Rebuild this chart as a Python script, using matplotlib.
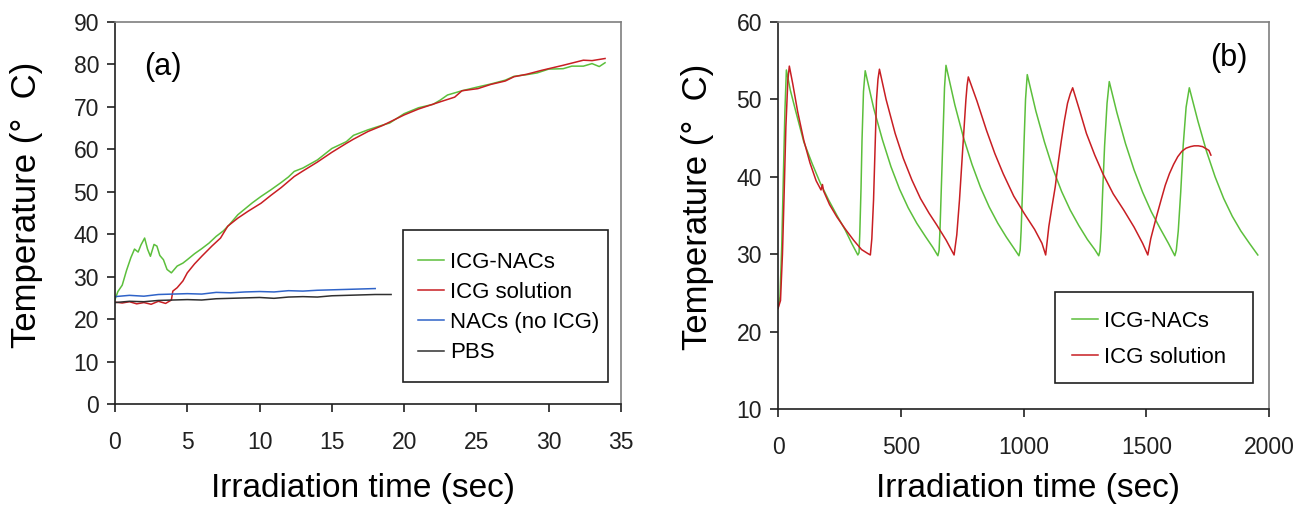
import matplotlib
matplotlib.use("Agg")
import matplotlib.pyplot as plt
from matplotlib.patches import Rectangle

plt.rcParams['font.family'] = ['Liberation Sans', 'DejaVu Sans']

GREEN = "#5cbf3c"
RED = "#c81e23"
BLUE = "#2f63c8"
BLACK = "#303030"

# ---- panel (a): heating curves ----
t_nacs = [0, 0.2, 0.5, 0.8, 1.1, 1.35, 1.6, 1.8, 2.05, 2.25, 2.45, 2.7, 2.9, 3.1, 3.35, 3.6, 3.9,
          4.3, 4.7, 5.0, 5.5, 6.0, 6.5, 7.0, 7.5, 7.9, 8.5, 9.0, 9.5, 10.1, 10.8, 11.5, 12.0, 12.4,
          13.0, 14.0, 15.0, 16.0, 16.5, 17.5, 18.5, 19.0, 20.0, 21.0, 22.0, 22.5, 23.0, 24.0, 25.1,
          26.0, 27.0, 27.6, 28.5, 29.2, 30.0, 31.0, 31.6, 32.4, 33.0, 33.5, 33.9]
T_nacs = [24.6, 26.5, 28.0, 31.5, 34.5, 36.5, 35.8, 37.5, 39.1, 36.5, 34.8, 37.6, 37.2, 35.0, 34.0, 31.7, 30.9,
          32.5, 33.2, 34.0, 35.4, 36.6, 37.9, 39.5, 40.8, 42.2, 44.6, 46.0, 47.4, 48.9, 50.5, 52.2, 53.5, 54.8,
          55.6, 57.5, 60.2, 61.8, 63.3, 64.6, 65.7, 66.2, 68.4, 69.8, 70.6, 71.6, 72.8, 73.8, 74.7,
          75.4, 76.3, 77.2, 77.6, 78.0, 78.9, 79.0, 79.6, 79.6, 80.2, 79.5, 80.4]

t_icg = [0, 0.5, 1.0, 1.5, 2.0, 2.5, 3.0, 3.5, 3.9, 4.0, 4.3, 4.7, 5.0, 5.5, 6.0, 6.7, 7.3, 7.8, 8.5,
         9.2, 10.1, 10.8, 11.5, 12.4, 13.0, 14.0, 15.0, 16.0, 16.5, 17.5, 18.5, 20.0, 21.0, 22.5, 23.5,
         24.0, 25.1, 26.0, 27.0, 27.6, 28.5, 29.5, 30.0, 31.0, 32.4, 33.0, 33.9]
T_icg = [24.0, 23.8, 24.1, 23.6, 23.9, 23.5, 24.2, 23.7, 24.5, 26.6, 27.4, 29.0, 30.9, 33.0, 34.8, 37.2, 39.1, 41.9, 43.8,
         45.4, 47.3, 49.2, 51.0, 53.6, 54.9, 57.0, 59.3, 61.4, 62.4, 64.2, 65.6, 68.1, 69.5, 71.2, 72.3,
         73.8, 74.3, 75.3, 76.1, 77.1, 77.7, 78.6, 79.0, 79.8, 81.0, 80.9, 81.4]

t_bare = [0, 1.0, 2.0, 3.0, 4.0, 5.0, 6.0, 7.0, 8.0, 9.0, 10.0, 11.0, 12.0, 13.0, 14.0, 15.0, 16.0, 17.0, 18.0]
T_bare = [25.3, 25.6, 25.4, 25.8, 25.9, 26.0, 25.9, 26.3, 26.2, 26.4, 26.5, 26.4, 26.7, 26.6, 26.8, 26.9, 27.0, 27.1, 27.2]

t_pbs = [0, 1.0, 2.0, 3.0, 4.0, 5.0, 6.0, 7.0, 8.0, 9.0, 10.0, 11.0, 12.0, 13.0, 14.0, 15.0, 16.0, 17.0, 18.0, 19.1]
T_pbs = [23.9, 24.2, 24.1, 24.4, 24.5, 24.6, 24.5, 24.8, 24.9, 25.0, 25.1, 24.9, 25.2, 25.3, 25.2, 25.5, 25.6, 25.7, 25.8, 25.8]

# ---- panel (b): repeated on/off cycles ----
tb_nacs = [0, 8, 15, 22, 28, 34, 50, 71, 105, 139, 172, 206, 240, 274, 300, 325,
           330, 333, 338, 342, 348, 355, 390, 425, 460, 495, 530, 565, 600, 630, 651,
           656, 660, 666, 672, 678, 684, 720, 755, 790, 825, 860, 895, 930, 960, 981,
           986, 990, 996, 1002, 1008, 1015, 1050, 1085, 1120, 1155, 1190, 1225, 1260, 1290, 1306,
           1311, 1316, 1322, 1330, 1340, 1349, 1380, 1415, 1450, 1485, 1520, 1555, 1590, 1616,
           1622, 1630, 1640, 1650, 1662, 1675, 1710, 1745, 1780, 1815, 1850, 1885, 1920, 1954]
Tb_nacs = [23.0, 24.5, 31.0, 40.5, 48.5, 53.8, 51.2, 48.6, 44.5, 41.7, 39.2, 37.0, 35.0, 33.1, 31.4, 29.9,
           30.2, 32.7, 38.5, 44.7, 51.0, 53.7, 48.8, 44.8, 41.3, 38.4, 36.0, 34.0, 32.3, 30.9, 29.8,
           30.5, 33.5, 39.5, 45.5, 51.5, 54.4, 49.3, 45.1, 41.6, 38.6, 36.1, 34.0, 32.2, 30.8, 29.8,
           30.5, 33.0, 38.5, 44.5, 50.0, 53.2, 48.5, 44.5, 41.0, 38.1, 35.7, 33.7, 31.9, 30.6, 29.8,
           30.4, 33.0, 38.0, 44.0, 49.5, 52.3, 48.3, 44.3, 40.9, 38.0, 35.5, 33.4, 31.4, 29.8,
           30.5, 33.0, 38.0, 44.0, 49.0, 51.5, 47.2, 43.3, 40.0, 37.2, 34.9, 33.0, 31.4, 29.9]

tb_icg = [0, 10, 18, 25, 32, 40, 46, 60, 80, 105, 130, 155, 175, 181, 185, 210, 240, 275, 308, 340, 365, 376,
          382, 389, 395, 401, 407, 413, 440, 477, 510, 545, 580, 615, 646, 685, 717,
          728, 739, 752, 765, 770, 775, 810, 849, 883, 917, 960, 1002, 1045, 1075, 1090,
          1103, 1116, 1129, 1141, 1154, 1166, 1179, 1190, 1200, 1228, 1256, 1290, 1323, 1365, 1408, 1450, 1485, 1506,
          1518, 1540, 1560, 1577, 1594, 1611, 1628, 1645, 1662, 1680, 1695, 1712, 1729, 1745, 1755, 1763]
Tb_icg = [23.0, 24.0, 30.0, 38.0, 46.5, 52.5, 54.3, 52.0, 48.4, 44.7, 41.8, 39.5, 38.3, 39.0, 38.2, 36.4, 34.8, 33.2, 31.8, 30.6, 30.1, 29.9,
          32.0, 37.0, 43.5, 49.9, 52.6, 53.9, 50.0, 45.6, 42.4, 39.6, 37.2, 35.3, 33.8, 31.8, 29.9,
          32.5, 37.0, 43.5, 49.9, 51.8, 52.9, 49.8, 46.0, 43.0, 40.4, 37.5, 35.3, 33.2, 31.4, 29.9,
          33.6, 36.2, 38.7, 41.8, 44.7, 47.2, 49.5, 50.7, 51.5, 48.6, 45.6, 42.8, 40.4, 37.8, 35.7, 33.5, 31.4, 29.9,
          32.0, 34.7, 37.0, 38.9, 40.4, 41.6, 42.6, 43.3, 43.7, 43.9, 44.0, 44.0, 43.9, 43.6, 43.4, 42.8]


def style_axes(ax):
    for side in ("top", "right"):
        ax.spines[side].set_color("#7f7f7f")
    for side in ("left", "bottom"):
        ax.spines[side].set_color("#202020")
    for sp in ax.spines.values():
        sp.set_linewidth(1.2)
    ax.tick_params(axis="both", direction="out", length=5.5, width=1.2, labelsize=16.5,
                   top=False, right=False, colors="#202020")
    ax.tick_params(axis="x", pad=14)
    ax.tick_params(axis="y", pad=6)


def boxed_legend(ax, rect, anchor, spacing):
    # frame drawn by hand so its size does not depend on the legend padding
    x0, y0, x1, y1 = rect
    ax.add_patch(Rectangle((x0, y0), x1 - x0, y1 - y0, transform=ax.transAxes, fill=False,
                           edgecolor="#202020", lw=1.2, zorder=5, clip_on=False))
    ax.legend(loc="upper left", bbox_to_anchor=anchor, fontsize=16, frameon=False,
              handlelength=1.15, handletextpad=0.3, borderpad=0, borderaxespad=0,
              labelspacing=spacing)


fig = plt.figure(figsize=(12.95, 5.08), dpi=100)

ax1 = fig.add_axes([0.0888, 0.2047, 0.3907, 0.752])
ax1.plot(t_nacs, T_nacs, color=GREEN, lw=1.1, label="ICG-NACs")
ax1.plot(t_icg, T_icg, color=RED, lw=1.1, label="ICG solution")
ax1.plot(t_bare, T_bare, color=BLUE, lw=1.1, label="NACs (no ICG)")
ax1.plot(t_pbs, T_pbs, color=BLACK, lw=1.1, label="PBS")
ax1.set_xlim(0, 35)
ax1.set_ylim(0, 90)
ax1.set_xticks(range(0, 36, 5))
ax1.set_yticks(range(0, 91, 10))
style_axes(ax1)
ax1.set_xlabel("Irradiation time (sec)", fontsize=24)
ax1.set_ylabel("Temperature (\u00b0  C)", fontsize=25)
ax1.xaxis.set_label_coords(0.49, -0.18)
ax1.yaxis.set_label_coords(-0.142, 0.521)
ax1.text(0.057, 0.861, "(a)", transform=ax1.transAxes, fontsize=22, va="baseline")
boxed_legend(ax1, (0.569, 0.0576, 0.974, 0.4555), (0.599, 0.398), 0.41)

ax2 = fig.add_axes([0.6008, 0.1949, 0.3792, 0.7618])
ax2.plot(tb_nacs, Tb_nacs, color=GREEN, lw=1.1, label="ICG-NACs")
ax2.plot(tb_icg, Tb_icg, color=RED, lw=1.1, label="ICG solution")
ax2.set_xlim(0, 2000)
ax2.set_ylim(10, 60)
ax2.set_xticks(range(0, 2001, 500))
ax2.set_yticks(range(10, 61, 10))
style_axes(ax2)
ax2.set_xlabel("Irradiation time (sec)", fontsize=24)
ax2.set_ylabel("Temperature (\u00b0  C)", fontsize=25)
ax2.xaxis.set_label_coords(0.51, -0.165)
ax2.yaxis.set_label_coords(-0.13, 0.522)
ax2.text(0.88, 0.886, "(b)", transform=ax2.transAxes, fontsize=22, va="baseline")
boxed_legend(ax2, (0.564, 0.067, 0.967, 0.302), (0.599, 0.253), 0.68)

fig.savefig("out.png", dpi=100)
